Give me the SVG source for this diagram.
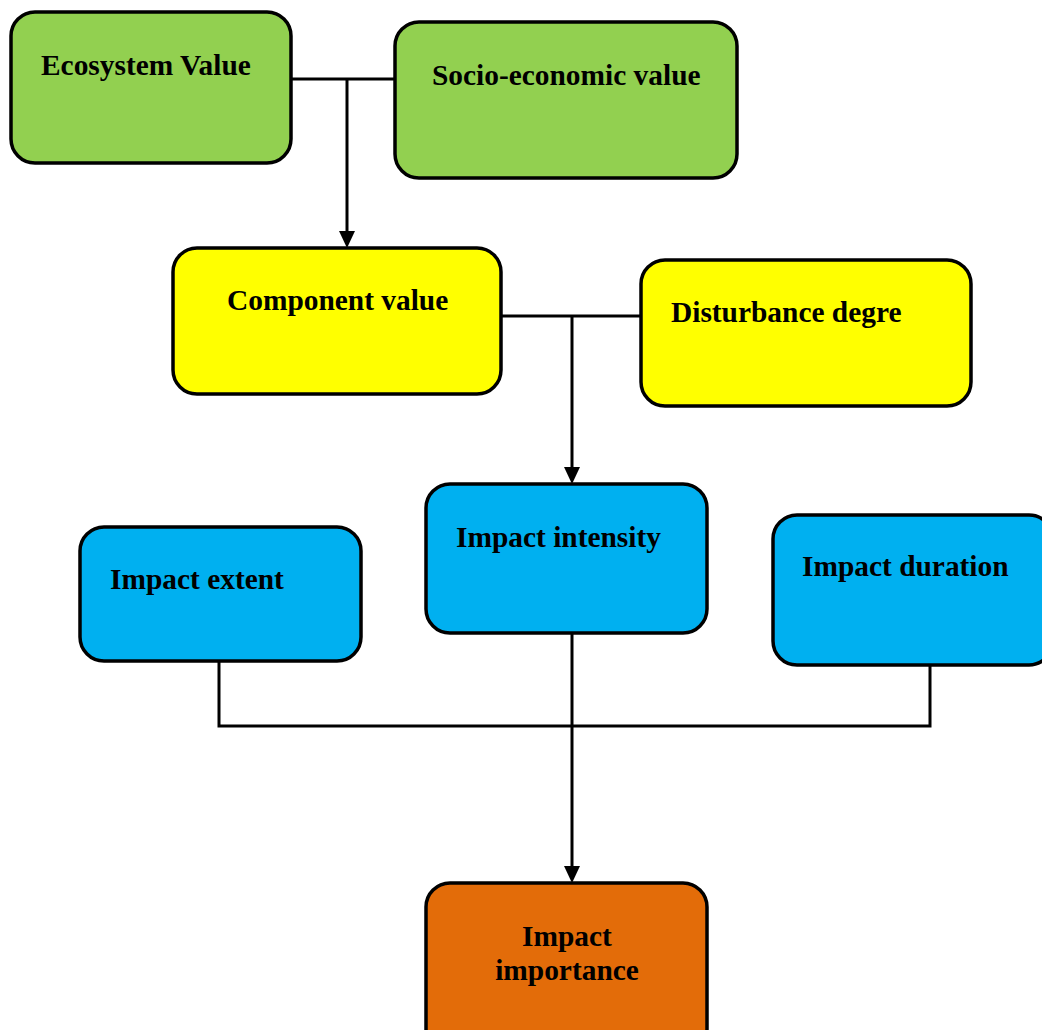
<svg xmlns="http://www.w3.org/2000/svg" width="1042" height="1030" viewBox="0 0 1042 1030">
<style>
.box{stroke:#000;stroke-width:3.5}
.g{fill:#92D050}.y{fill:#FFFF00}.b{fill:#00B0F0}.o{fill:#E36C09}
.t{font-family:"Liberation Serif","Times New Roman",serif;font-weight:bold;font-size:29.4px;fill:#000}
.c{fill:none;stroke:#000;stroke-width:3}
.ah{fill:#000}
</style>
<rect width="1042" height="1030" fill="#fff"/>
<g id="connectors">
<path class="c" d="M291,79 H395"/>
<path class="c" d="M347,79 V232"/>
<polygon class="ah" points="339,231 355,231 347,248"/>
<path class="c" d="M501,316 H641"/>
<path class="c" d="M572,316 V468"/>
<polygon class="ah" points="564,467 580,467 572,484"/>
<path class="c" d="M219,661 V726 H930 V665"/>
<path class="c" d="M572,633 V867"/>
<polygon class="ah" points="564,866 580,866 572,883"/>
</g>
<g id="ecosystem-value"><rect class="box g" x="11" y="12" width="280" height="151" rx="24"/><text class="t" x="41" y="75">Ecosystem Value</text></g>
<g id="socio-economic-value"><rect class="box g" x="395" y="22" width="342" height="156" rx="24"/><text class="t" x="432" y="85">Socio-economic value</text></g>
<g id="component-value"><rect class="box y" x="173" y="248" width="328" height="146" rx="24"/><text class="t" x="227" y="310">Component value</text></g>
<g id="disturbance-degre"><rect class="box y" x="641" y="260" width="330" height="146" rx="24"/><text class="t" x="671" y="322">Disturbance degre</text></g>
<g id="impact-extent"><rect class="box b" x="80" y="527" width="281" height="134" rx="24"/><text class="t" x="110" y="589">Impact extent</text></g>
<g id="impact-intensity"><rect class="box b" x="426" y="484" width="281" height="149" rx="24"/><text class="t" x="456" y="547">Impact intensity</text></g>
<g id="impact-duration"><rect class="box b" x="773" y="515" width="280" height="150" rx="24"/><text class="t" x="802" y="576">Impact duration</text></g>
<g id="impact-importance"><rect class="box o" x="426" y="883" width="281" height="170" rx="24"/><text class="t" text-anchor="middle" x="567" y="946">Impact</text><text class="t" text-anchor="middle" x="567" y="980">importance</text></g>
</svg>
